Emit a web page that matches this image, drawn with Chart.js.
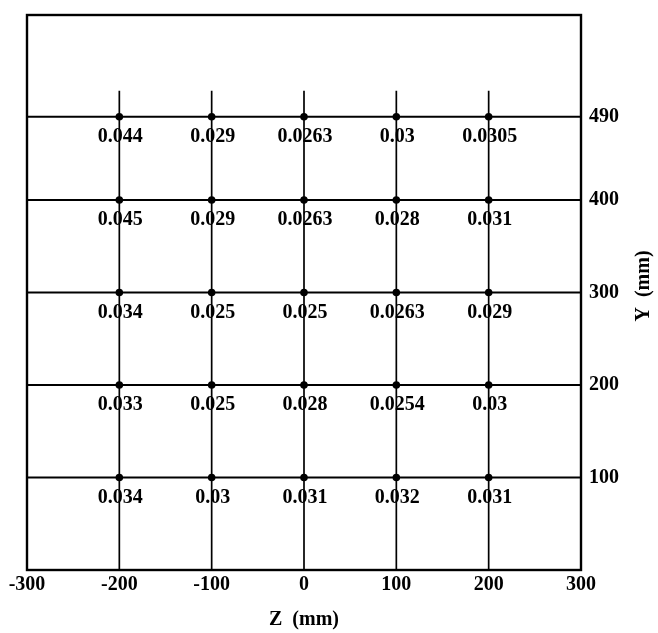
<!DOCTYPE html>
<html>
<head>
<meta charset="utf-8">
<script src="https://cdn.jsdelivr.net/npm/chart.js@4/dist/chart.umd.min.js"></script>
<style>
  html, body { margin: 0; padding: 0; background: #fff; }
</style>
</head>
<body>
<canvas id="c" width="658" height="633"></canvas>
<script>
// Measurement grid: Z positions (mm) and Y levels (mm)
const zPositions = [-200, -100, 0, 100, 200];
const yLevels = [490, 400, 300, 200, 100];

// Measured values at each grid node, one row per Y level (left to right along Z)
const row490 = [0.044, 0.029, 0.0263, 0.03, 0.0305];
const row400 = [0.045, 0.029, 0.0263, 0.028, 0.031];
const row300 = [0.034, 0.025, 0.025, 0.0263, 0.029];
const row200 = [0.033, 0.025, 0.028, 0.0254, 0.03];
const row100 = [0.034, 0.03, 0.031, 0.032, 0.031];
const rows = [row490, row400, row300, row200, row100];

// Axis ticks and extents
const xTicks = [-300, -200, -100, 0, 100, 200, 300];
const yTicks = [100, 200, 300, 400, 490];
const zRange = [-300, 300];
const yRange = [0, 600];
const stemTop = 518;

const FONT = "'Liberation Serif', 'DejaVu Serif', serif";
const INK = '#000';

const datasets = [];

// Horizontal lines across the full width at each Y level
yLevels.forEach(y => {
  datasets.push({
    type: 'line',
    data: [{ x: zRange[0], y: y }, { x: zRange[1], y: y }],
    borderColor: INK, borderWidth: 1.9, pointRadius: 0, fill: false
  });
});

// Vertical lines at each Z position, rising from the base past the top level
zPositions.forEach(z => {
  datasets.push({
    type: 'line',
    data: [{ x: z, y: yRange[0] }, { x: z, y: stemTop }],
    borderColor: INK, borderWidth: 1.7, pointRadius: 0, fill: false
  });
});

// Grid nodes with their values
const nodes = [];
yLevels.forEach((y, i) => {
  zPositions.forEach((z, j) => nodes.push({ x: z, y: y, v: rows[i][j] }));
});
datasets.push({
  type: 'scatter',
  data: nodes,
  pointStyle: 'circle',
  pointRadius: 3.8,
  backgroundColor: INK,
  borderColor: INK,
  borderWidth: 0
});
const nodeIndex = datasets.length - 1;

const annotate = {
  id: 'annotate',
  afterDatasetsDraw(chart) {
    const { ctx, chartArea: a } = chart;
    ctx.save();
    // plot frame
    ctx.strokeStyle = INK;
    ctx.lineWidth = 2.4;
    ctx.strokeRect(a.left, a.top, a.right - a.left, a.bottom - a.top);

    // value labels under each node
    ctx.fillStyle = INK;
    ctx.font = `bold 20px ${FONT}`;
    ctx.textAlign = 'center';
    ctx.textBaseline = 'middle';
    const meta = chart.getDatasetMeta(nodeIndex);
    meta.data.forEach((pt, k) => {
      ctx.fillText(String(nodes[k].v), pt.x + 1, pt.y + 20);
    });

    // axis titles
    ctx.font = `bold 20px ${FONT}`;
    ctx.fillText('Z  (mm)', chart.scales.x.getPixelForValue(0), 620);
    ctx.translate(644, 286);
    ctx.rotate(-Math.PI / 2);
    ctx.fillText('Y  (mm)', 0, 0);
    ctx.restore();
  }
};

new Chart(document.getElementById('c'), {
  type: 'scatter',
  data: { datasets },
  options: {
    responsive: false,
    devicePixelRatio: 1,
    animation: false,
    layout: { padding: { left: 27, top: 15, right: 0, bottom: 0 } },
    plugins: { legend: { display: false }, tooltip: { enabled: false } },
    scales: {
      x: {
        type: 'linear',
        position: 'bottom',
        min: zRange[0], max: zRange[1],
        grid: { display: false, drawTicks: false },
        border: { display: false },
        afterBuildTicks: s => { s.ticks = xTicks.map(v => ({ value: v })); },
        afterFit: s => { s.height = 63; s.paddingLeft = 0; s.paddingRight = 0; },
        ticks: {
          autoSkip: false, maxRotation: 0, padding: 3,
          color: INK, font: { family: FONT, size: 20, weight: 'bold' }
        }
      },
      y: {
        type: 'linear',
        position: 'right',
        min: yRange[0], max: yRange[1],
        grid: { display: false, drawTicks: false },
        border: { display: false },
        afterBuildTicks: s => { s.ticks = yTicks.map(v => ({ value: v })); },
        afterFit: s => { s.width = 77; s.paddingTop = 0; s.paddingBottom = 0; },
        ticks: {
          autoSkip: false, padding: 8,
          color: INK, font: { family: FONT, size: 20, weight: 'bold' }
        }
      }
    }
  },
  plugins: [annotate]
});
</script>
</body>
</html>
